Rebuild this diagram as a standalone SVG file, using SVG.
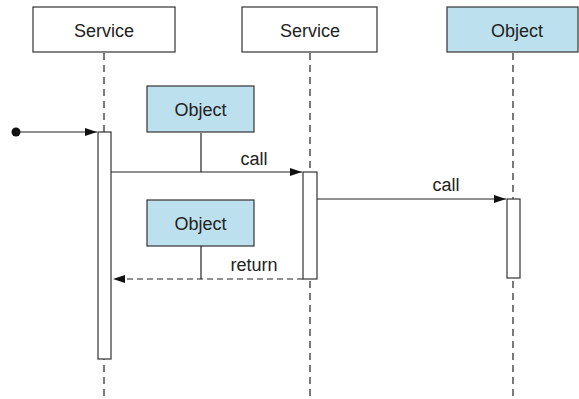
<svg xmlns="http://www.w3.org/2000/svg" width="579" height="399" viewBox="0 0 579 399">
<style>
.box{fill:#fff;stroke:#333;stroke-width:1.2}
.obj{fill:#bde0ee;stroke:#333;stroke-width:1.2}
.act{fill:#fff;stroke:#333;stroke-width:1.2}
.life{stroke:#222;stroke-width:1.2;stroke-dasharray:7,5;fill:none}
.msg{stroke:#222;stroke-width:1.2;fill:none}
.ret{stroke:#222;stroke-width:1.2;fill:none;stroke-dasharray:6,4}
text{font-family:"Liberation Sans",Arial,sans-serif;font-size:18px;fill:#222;text-anchor:middle}
</style>
<defs>
<marker id="ah" viewBox="0 0 12 8" refX="12" refY="4" markerWidth="12" markerHeight="8" markerUnits="userSpaceOnUse" orient="auto">
<path d="M0,0 L12,4 L0,8 Z" fill="#111"/>
</marker>
</defs>
<g id="lifelines">
<line class="life" x1="104" y1="53" x2="104" y2="399"/>
<line class="life" x1="310" y1="53" x2="310" y2="399"/>
<line class="life" x1="513" y1="53" x2="513" y2="399"/>
</g>
<g id="service1"><rect class="box" x="33" y="7" width="142" height="45"/><text x="104" y="37">Service</text></g>
<g id="service2"><rect class="box" x="242" y="7" width="135" height="45"/><text x="310" y="37">Service</text></g>
<g id="object3"><rect class="obj" x="447" y="7" width="131" height="45"/><text x="517" y="37">Object</text></g>
<g id="connectors">
<circle cx="16" cy="132" r="4.5" fill="#111"/>
<line class="msg" x1="16" y1="132" x2="97" y2="132" marker-end="url(#ah)"/>
<line class="msg" x1="111" y1="172" x2="302" y2="172" marker-end="url(#ah)"/>
<line class="msg" x1="317" y1="199" x2="506" y2="199" marker-end="url(#ah)"/>
<line class="ret" x1="303" y1="279" x2="113" y2="279" marker-end="url(#ah)"/>
<line class="msg" x1="201" y1="133" x2="201" y2="172"/>
<line class="msg" x1="201" y1="246" x2="201" y2="279"/>
<text x="254" y="165">call</text>
<text x="446" y="191">call</text>
<text x="254" y="271">return</text>
</g>
<g id="act1"><rect class="act" x="98" y="132" width="13" height="227"/></g>
<g id="act2"><rect class="act" x="303" y="172" width="14" height="107"/></g>
<g id="act3"><rect class="act" x="507" y="199" width="13" height="79"/></g>
<g id="object1"><rect class="obj" x="147" y="86" width="107" height="46"/><text x="200.5" y="116">Object</text></g>
<g id="object2"><rect class="obj" x="147" y="200" width="107" height="46"/><text x="200.5" y="230">Object</text></g>
</svg>
